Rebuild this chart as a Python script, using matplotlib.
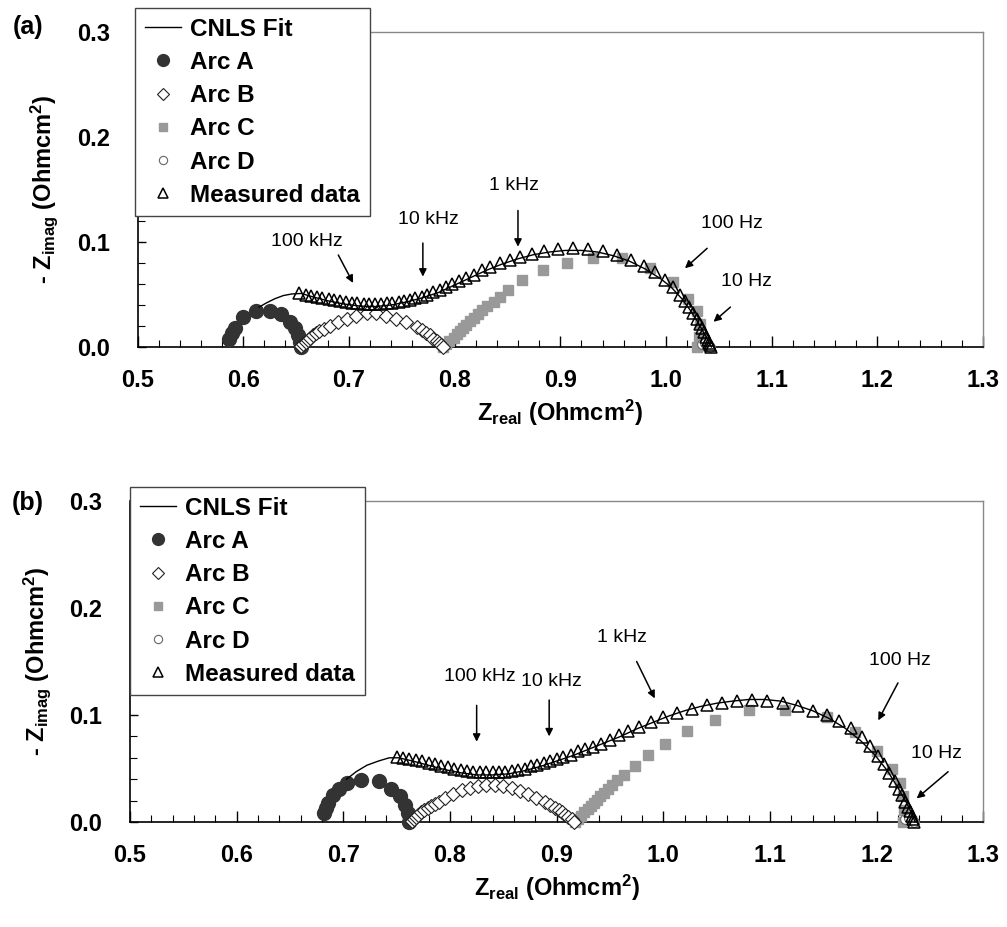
import matplotlib
matplotlib.use("Agg")
import matplotlib.pyplot as plt
from matplotlib.ticker import MultipleLocator, FormatStrFormatter

plt.rcParams['font.family'] = ['Liberation Sans', 'DejaVu Sans']
plt.rcParams['mathtext.fontset'] = 'custom'
plt.rcParams['mathtext.rm'] = 'Liberation Sans:bold'
plt.rcParams['mathtext.it'] = 'Liberation Sans:bold'
plt.rcParams['mathtext.bf'] = 'Liberation Sans:bold'

# ---------------- Panel (a) data ----------------
a_meas_x = [0.653, 0.659, 0.664, 0.670, 0.675, 0.681, 0.686, 0.692, 0.697, 0.703,
            0.708, 0.714, 0.719, 0.725, 0.730, 0.736, 0.741, 0.747, 0.752, 0.758,
            0.763, 0.769, 0.774, 0.780, 0.786, 0.792, 0.798, 0.804, 0.811, 0.818,
            0.826, 0.834, 0.843, 0.852, 0.862, 0.873, 0.885, 0.898, 0.912, 0.926,
            0.940, 0.954, 0.967, 0.979, 0.990, 0.999, 1.007, 1.013, 1.018, 1.022,
            1.026, 1.029, 1.032, 1.034, 1.036, 1.038, 1.040, 1.041, 1.042, 1.043]
a_meas_y = [0.051, 0.050, 0.049, 0.048, 0.047, 0.046, 0.045, 0.044, 0.043, 0.042,
            0.042, 0.041, 0.041, 0.041, 0.041, 0.042, 0.042, 0.043, 0.044, 0.045,
            0.047, 0.048, 0.050, 0.052, 0.054, 0.057, 0.060, 0.063, 0.066, 0.069,
            0.073, 0.076, 0.080, 0.083, 0.086, 0.089, 0.091, 0.093, 0.094, 0.093,
            0.091, 0.088, 0.083, 0.077, 0.071, 0.064, 0.057, 0.050, 0.044, 0.038,
            0.032, 0.027, 0.022, 0.018, 0.014, 0.010, 0.007, 0.004, 0.002, 0.000]

a_fit_x = [0.615, 0.622, 0.630, 0.638, 0.646, 0.655, 0.665, 0.680, 0.695, 0.710,
           0.725, 0.740, 0.755, 0.770, 0.785, 0.800, 0.815, 0.830, 0.845, 0.860,
           0.875, 0.890, 0.905, 0.920, 0.935, 0.950, 0.965, 0.980, 0.995, 1.005,
           1.015, 1.023, 1.030, 1.035, 1.039, 1.043]
a_fit_y = [0.038, 0.042, 0.046, 0.049, 0.0505, 0.051, 0.048, 0.044, 0.041, 0.039,
           0.0385, 0.040, 0.043, 0.047, 0.052, 0.059, 0.066, 0.073, 0.079, 0.084,
           0.088, 0.0905, 0.092, 0.092, 0.0905, 0.087, 0.082, 0.0745, 0.065, 0.057,
           0.046, 0.035, 0.024, 0.015, 0.008, 0.000]

a_arcA_x = [0.587, 0.589, 0.592, 0.600, 0.612, 0.625, 0.636, 0.644, 0.649, 0.652, 0.654, 0.655]
a_arcA_y = [0.008, 0.013, 0.018, 0.029, 0.034, 0.034, 0.031, 0.024, 0.018, 0.011, 0.005, 0.000]

a_arcB_x = [0.655, 0.657, 0.659, 0.661, 0.663, 0.666, 0.669, 0.672, 0.676, 0.682,
            0.690, 0.698, 0.707, 0.717, 0.726, 0.735, 0.745, 0.754, 0.764, 0.769,
            0.773, 0.777, 0.780, 0.783, 0.785, 0.787, 0.789]
a_arcB_y = [0.001, 0.003, 0.005, 0.007, 0.009, 0.011, 0.013, 0.015, 0.017, 0.020,
            0.024, 0.027, 0.030, 0.032, 0.032, 0.030, 0.027, 0.024, 0.019, 0.016,
            0.013, 0.011, 0.008, 0.006, 0.004, 0.002, 0.000]

a_arcC_x = [0.789, 0.792, 0.795, 0.799, 0.802, 0.805, 0.808, 0.811, 0.815, 0.818,
            0.822, 0.826, 0.831, 0.837, 0.843, 0.851, 0.864, 0.884, 0.906, 0.931,
            0.958, 0.985, 1.007, 1.021, 1.029, 1.032, 1.031, 1.029]
a_arcC_y = [0.000, 0.003, 0.006, 0.009, 0.012, 0.015, 0.018, 0.021, 0.025, 0.028,
            0.031, 0.035, 0.039, 0.043, 0.048, 0.054, 0.064, 0.073, 0.080, 0.0845,
            0.0845, 0.075, 0.062, 0.046, 0.034, 0.022, 0.010, 0.000]

a_arcD_x = [1.034, 1.037, 1.040, 1.042]
a_arcD_y = [0.003, 0.004, 0.003, 0.000]

# ---------------- Panel (b) data ----------------
b_meas_x = [0.750, 0.756, 0.762, 0.768, 0.774, 0.780, 0.786, 0.792, 0.798, 0.804,
            0.810, 0.816, 0.822, 0.828, 0.834, 0.840, 0.846, 0.852, 0.858, 0.864,
            0.870, 0.876, 0.882, 0.888, 0.894, 0.900, 0.906, 0.913, 0.920, 0.927,
            0.934, 0.942, 0.950, 0.958, 0.967, 0.977, 0.988, 1.000, 1.013, 1.027,
            1.041, 1.055, 1.069, 1.083, 1.097, 1.112, 1.126, 1.140, 1.153, 1.165,
            1.176, 1.186, 1.194, 1.201, 1.207, 1.212, 1.217, 1.221, 1.224, 1.227,
            1.229, 1.231, 1.233, 1.234, 1.235]
b_meas_y = [0.061, 0.060, 0.059, 0.058, 0.057, 0.055, 0.054, 0.052, 0.051, 0.050,
            0.049, 0.048, 0.047, 0.047, 0.047, 0.047, 0.047, 0.047, 0.048, 0.049,
            0.050, 0.052, 0.053, 0.055, 0.057, 0.059, 0.061, 0.063, 0.066, 0.068,
            0.070, 0.073, 0.077, 0.081, 0.085, 0.089, 0.093, 0.098, 0.102, 0.106,
            0.109, 0.111, 0.113, 0.114, 0.1135, 0.111, 0.108, 0.104, 0.100, 0.094,
            0.088, 0.079, 0.071, 0.062, 0.054, 0.046, 0.038, 0.031, 0.025, 0.019,
            0.014, 0.010, 0.006, 0.003, 0.000]

b_fit_x = [0.703, 0.712, 0.722, 0.733, 0.743, 0.752, 0.765, 0.780, 0.795, 0.810,
           0.825, 0.840, 0.855, 0.870, 0.885, 0.900, 0.915, 0.930, 0.945, 0.960,
           0.975, 0.990, 1.005, 1.020, 1.035, 1.050, 1.065, 1.080, 1.095, 1.110,
           1.125, 1.140, 1.155, 1.170, 1.185, 1.198, 1.210, 1.220, 1.228, 1.233, 1.236]
b_fit_y = [0.040, 0.047, 0.053, 0.057, 0.060, 0.060, 0.057, 0.053, 0.049, 0.046,
           0.044, 0.044, 0.045, 0.048, 0.052, 0.057, 0.062, 0.068, 0.074, 0.080,
           0.087, 0.093, 0.099, 0.104, 0.108, 0.111, 0.113, 0.1145, 0.1145, 0.113,
           0.109, 0.104, 0.097, 0.088, 0.076, 0.063, 0.048, 0.032, 0.018, 0.008, 0.000]

b_arcA_x = [0.682, 0.684, 0.686, 0.690, 0.696, 0.703, 0.717, 0.733, 0.745, 0.753, 0.758, 0.761, 0.762]
b_arcA_y = [0.008, 0.013, 0.018, 0.025, 0.031, 0.036, 0.039, 0.038, 0.031, 0.024, 0.016, 0.008, 0.000]

b_arcB_x = [0.764, 0.766, 0.768, 0.770, 0.773, 0.776, 0.779, 0.782, 0.786, 0.790,
            0.795, 0.803, 0.811, 0.819, 0.826, 0.834, 0.842, 0.850, 0.858, 0.866,
            0.873, 0.881, 0.889, 0.894, 0.898, 0.902, 0.905, 0.908, 0.911, 0.914, 0.916]
b_arcB_y = [0.001, 0.003, 0.005, 0.007, 0.009, 0.011, 0.013, 0.015, 0.017, 0.019,
            0.022, 0.026, 0.030, 0.032, 0.034, 0.035, 0.035, 0.034, 0.032, 0.029,
            0.026, 0.022, 0.019, 0.016, 0.013, 0.011, 0.009, 0.007, 0.005, 0.003, 0.000]

b_arcC_x = [0.917, 0.920, 0.923, 0.926, 0.929, 0.932, 0.935, 0.938, 0.941, 0.944,
            0.948, 0.952, 0.957, 0.963, 0.973, 0.986, 1.002, 1.022, 1.048, 1.080,
            1.114, 1.153, 1.180, 1.200, 1.214, 1.222, 1.225, 1.226, 1.225]
b_arcC_y = [0.000, 0.003, 0.006, 0.009, 0.012, 0.015, 0.018, 0.021, 0.024, 0.027,
            0.031, 0.035, 0.039, 0.044, 0.052, 0.063, 0.073, 0.085, 0.095, 0.105,
            0.105, 0.098, 0.084, 0.066, 0.050, 0.036, 0.024, 0.011, 0.000]

b_arcD_x = [1.227, 1.230, 1.233, 1.235]
b_arcD_y = [0.003, 0.004, 0.003, 0.000]

# annotations: (label, text x, text y, arrow tail x, tail y, tip x, tip y)
a_notes = [("100 kHz", 0.660, 0.100, 0.690, 0.0876, 0.704, 0.061),
           ("10 kHz", 0.775, 0.121, 0.770, 0.099, 0.770, 0.067),
           ("1 kHz", 0.856, 0.154, 0.860, 0.130, 0.860, 0.0955),
           ("100 Hz", 1.062, 0.118, 1.039, 0.094, 1.018, 0.075),
           ("10 Hz", 1.076, 0.062, 1.061, 0.038, 1.045, 0.024)]
b_notes = [("100 kHz", 0.828, 0.136, 0.825, 0.109, 0.825, 0.075),
           ("10 kHz", 0.895, 0.131, 0.893, 0.114, 0.893, 0.080),
           ("1 kHz", 0.961, 0.172, 0.975, 0.150, 0.992, 0.1155),
           ("100 Hz", 1.222, 0.151, 1.220, 0.130, 1.2015, 0.095),
           ("10 Hz", 1.256, 0.064, 1.267, 0.047, 1.2375, 0.022)]

x_ticks = [0.5, 0.6, 0.7, 0.8, 0.9, 1.0, 1.1, 1.2, 1.3]
y_ticks = [0.0, 0.1, 0.2, 0.3]

W, H = 1007, 927
fig = plt.figure(figsize=(W / 100, H / 100), dpi=100)

def px_axes(l, r, t, b):
    return fig.add_axes([l / W, 1 - b / H, (r - l) / W, (b - t) / H])

ax_a = px_axes(137.5, 983, 32, 347)
ax_b = px_axes(130, 983.3, 501, 822)

TICK_FS = 17
LEG_FS = 17.5
NOTE_FS = 14

def draw(ax, meas, fit, A, B, C, D, notes, legend_anchor, tag, tag_y):
    ax.plot(C[0], C[1], ls='none', marker='s', ms=7.5, mfc='#999999', mec='#999999',
            zorder=3, clip_on=False, label='Arc C')
    ax.plot(A[0], A[1], ls='none', marker='o', ms=10, mfc='#333333', mec='#333333',
            zorder=3, clip_on=False, label='Arc A')
    ax.plot(B[0], B[1], ls='none', marker='D', ms=7, mfc='white', mec='#222222', mew=0.8,
            zorder=3, clip_on=False, label='Arc B')
    ax.plot(D[0], D[1], ls='none', marker='o', ms=7, mfc='white', mec='#666666', mew=0.8,
            zorder=3, clip_on=False, label='Arc D')
    ax.plot(meas[0], meas[1], ls='none', marker='^', ms=9, mfc='none', mec='black', mew=1.1,
            zorder=4, clip_on=False, label='Measured data')
    ax.plot(fit[0], fit[1], color='black', lw=1.0, zorder=5, clip_on=False, label='CNLS Fit')

    ax.set_xlim(0.5, 1.3)
    ax.set_ylim(0.0, 0.3)
    ax.set_xticks(x_ticks)
    ax.set_yticks(y_ticks)
    ax.xaxis.set_minor_locator(MultipleLocator(0.02))
    ax.yaxis.set_minor_locator(MultipleLocator(0.02))
    ax.xaxis.set_major_formatter(FormatStrFormatter('%.1f'))
    ax.yaxis.set_major_formatter(FormatStrFormatter('%.1f'))
    ax.tick_params(axis='x', which='major', direction='in', length=8, width=1.0,
                   pad=16, labelsize=TICK_FS, top=False)
    ax.tick_params(axis='x', which='minor', direction='in', length=5, width=0.8, top=False)
    ax.tick_params(axis='y', which='major', direction='in', length=6, width=1.0,
                   pad=20, labelsize=TICK_FS, right=False)
    ax.tick_params(axis='y', which='minor', direction='in', length=5, width=0.8, right=False)
    for lab in ax.get_xticklabels() + ax.get_yticklabels():
        lab.set_fontweight('bold')
    for s in ('left', 'bottom'):
        ax.spines[s].set_color('black')
        ax.spines[s].set_linewidth(1.2)
    for s in ('top', 'right'):
        ax.spines[s].set_color('#888888')
        ax.spines[s].set_linewidth(1.0)

    ax.set_xlabel(r'Z$_{\rm real}$ (Ohmcm$^{2}$)', fontsize=17, fontweight='bold', labelpad=4)
    ax.set_ylabel(r'- Z$_{\rm imag}$ (Ohmcm$^{2}$)', fontsize=17, fontweight='bold', labelpad=12)

    for lab, tx, ty, x0, y0, x1, y1 in notes:
        ax.text(tx, ty, lab, fontsize=NOTE_FS, ha='center', va='center', zorder=6)
        ax.annotate('', xy=(x1, y1), xytext=(x0, y0),
                    arrowprops=dict(arrowstyle='-|>', color='black', lw=1.1,
                                    mutation_scale=11, shrinkA=0, shrinkB=0), zorder=6)

    h, l = ax.get_legend_handles_labels()
    order = ['CNLS Fit', 'Arc A', 'Arc B', 'Arc C', 'Arc D', 'Measured data']
    hh = [h[l.index(o)] for o in order]
    leg = fig.legend(hh, order, loc='upper left',
                     bbox_to_anchor=(legend_anchor[0] / W, 1 - legend_anchor[1] / H),
                     bbox_transform=fig.transFigure, borderaxespad=0,
                     frameon=True, fancybox=False, framealpha=1, edgecolor='#444444',
                     prop={'weight': 'bold', 'size': LEG_FS}, handlelength=1.5,
                     handletextpad=0.37, labelspacing=0.42, borderpad=0.4, markerscale=0.85)
    leg.get_frame().set_linewidth(1.0)
    fig.text(28 / W, 1 - tag_y / H, tag, fontsize=18, fontweight='bold', ha='center', va='center')

draw(ax_a, (a_meas_x, a_meas_y), (a_fit_x, a_fit_y), (a_arcA_x, a_arcA_y),
     (a_arcB_x, a_arcB_y), (a_arcC_x, a_arcC_y), (a_arcD_x, a_arcD_y),
     a_notes, (135, 8), '(a)', 27)
draw(ax_b, (b_meas_x, b_meas_y), (b_fit_x, b_fit_y), (b_arcA_x, b_arcA_y),
     (b_arcB_x, b_arcB_y), (b_arcC_x, b_arcC_y), (b_arcD_x, b_arcD_y),
     b_notes, (130, 487), '(b)', 503)

fig.savefig('out.png', dpi=100)
